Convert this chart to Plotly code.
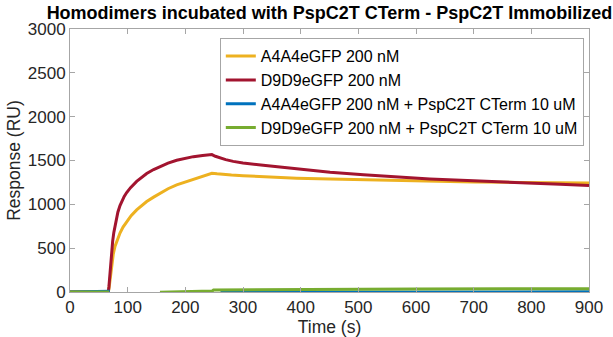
import plotly.graph_objects as go

# ---- data ----
t_a4 = [0, 66.5, 68, 69.5, 71, 72.5, 75, 78, 82, 86.7, 92, 98.3, 106, 115.6, 125, 133,
        145, 156, 170, 185, 200, 214, 230, 246,
        255, 265, 280, 300, 335, 393, 451, 509, 566, 624, 700, 780, 850, 900]
a4 = [0, 0, 60, 150, 240, 330, 430, 519, 600, 672, 740, 804, 870, 937, 990, 1032,
      1082, 1127, 1178, 1222, 1256, 1287, 1322, 1355,
      1348, 1341, 1334, 1326, 1315, 1298, 1288, 1279, 1270, 1262, 1256, 1250, 1246, 1243]

t_d9 = [0, 66.5, 67.5, 68.5, 69.5, 70.5, 71.5, 72.5, 74, 76, 78, 80, 83, 86.7, 90, 94,
        98.3, 105, 115.6, 125, 133, 145, 156, 170, 185, 200, 214, 230, 246,
        252, 260, 270, 283, 300, 335, 393, 451, 509, 566, 624, 700, 780, 850, 900]
d9 = [0, 0, 60, 150, 240, 330, 410, 490, 580, 680, 760, 830, 910, 985, 1040, 1090,
      1135, 1190, 1262, 1315, 1352, 1397, 1432, 1470, 1503, 1527, 1544, 1557, 1567,
      1548, 1528, 1510, 1490, 1472, 1446, 1404, 1367, 1337, 1313, 1290, 1268, 1250, 1230, 1214]

t_a4c = [0, 68, 69, None, 261, 400, 600, 900]
a4c = [0, 0, 8, None, -3, -1, 0, 2]

t_d9c = [0, 68, None, 156, 200, 247, 249, 400, 600, 900]
d9c = [0, 0, None, -4, 3, 12, 24, 30, 34, 38]

names = ["A4A4eGFP 200 nM", "D9D9eGFP 200 nM",
         "A4A4eGFP 200 nM + PspC2T CTerm 10 uM",
         "D9D9eGFP 200 nM + PspC2T CTerm 10 uM"]
colors = ["#EDB120", "#A2142F", "#0072BD", "#77AC30"]

x_ticks = [0, 100, 200, 300, 400, 500, 600, 700, 800, 900]
y_ticks = [0, 500, 1000, 1500, 2000, 2500, 3000]

fig = go.Figure()
for xs, ys, nm, c in zip([t_a4, t_d9, t_a4c, t_d9c], [a4, d9, a4c, d9c], names, colors):
    fig.add_trace(go.Scatter(x=xs, y=ys, mode="lines", name=nm,
                             line=dict(color=c, width=3), connectgaps=False))

axis_col = "#a6a6a6"
font_fam = "Liberation Sans, Arial, sans-serif"

fig.update_layout(
    width=613, height=337,
    margin=dict(l=70, r=24, t=29, b=45),
    paper_bgcolor="white", plot_bgcolor="white",
    font=dict(family=font_fam, color="#262626", size=17),
    title=dict(text="<b>Homodimers incubated with PspC2T CTerm - PspC2T Immobilized</b>",
               x=0.5, xref="paper", xanchor="center",
               y=1 - 13 / 337, yref="container", yanchor="middle",
               font=dict(size=18, color="black", family=font_fam)),
    showlegend=True,
    legend=dict(x=0.99, y=0.965, xanchor="right", yanchor="top",
                bgcolor="white", bordercolor=axis_col, borderwidth=1,
                font=dict(size=16, color="black", family=font_fam),
                itemwidth=30, tracegroupgap=0),
    xaxis=dict(range=[0, 900], tickvals=x_ticks, ticktext=[str(v) for v in x_ticks],
               showgrid=False, zeroline=False, showline=True, linecolor=axis_col,
               linewidth=1, mirror="ticks", ticks="inside", ticklen=5,
               tickcolor=axis_col, tickfont=dict(size=17, color="#262626"),
               automargin=False,
               title=dict(text="Time (s)", font=dict(size=17.5, color="#262626"), standoff=2)),
    yaxis=dict(range=[0, 3000], tickvals=y_ticks, ticktext=[str(v) for v in y_ticks],
               showgrid=False, zeroline=False, showline=True, linecolor=axis_col,
               linewidth=1, mirror="ticks", ticks="inside", ticklen=5,
               tickcolor=axis_col, tickfont=dict(size=17, color="#262626"),
               automargin=False,
               title=dict(text="Response (RU)", font=dict(size=17.5, color="#262626"), standoff=2)),
)

fig.write_html("out.html")
